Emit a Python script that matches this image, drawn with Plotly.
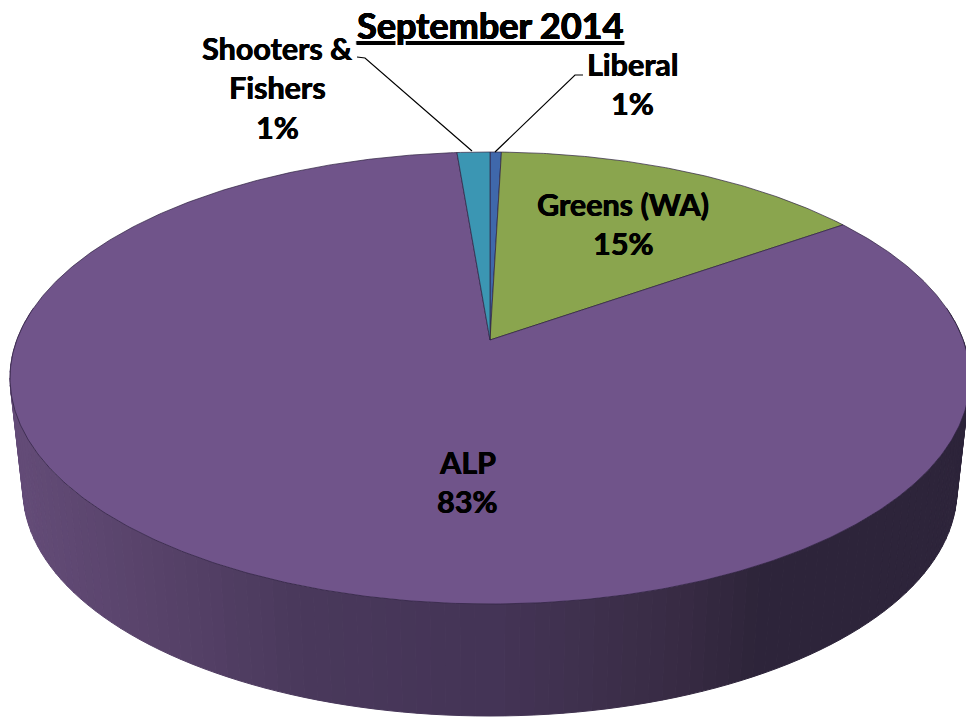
import numpy as np
import plotly.graph_objects as go

# ---- data (clockwise from 12 o'clock)
parties = ["Liberal", "Greens (WA)", "ALP", "Shooters & Fishers"]
shares = [0.45, 14.8, 83.45, 1.3]
colors = ["#3F68AB", "#8AA54E", "#70548A", "#3B96B3"]
title_text = "September 2014"
label_lines = [["Liberal", "1%"], ["Greens (WA)", "15%"], ["ALP", "83%"], ["Shooters &", "Fishers", "1%"]]
label_x = [632, 623, 467, 277]
label_y = [63.5, 203.5, 461.5, 47.5]
LINE_STEP = 39.5
leader_x = [[583, 575, 495], [357, 365, 472]]
leader_y = [[75, 75, 152], [57, 58, 151]]

# wall shading: colour against screen x
wall_x = [10, 150, 300, 500, 600, 680, 760, 966]
wall_r = [100, 88, 74, 68, 62, 56, 46, 45]
wall_g = [76, 67, 57, 52, 48, 43, 37, 36]
wall_b = [120, 106, 92, 86, 76, 68, 58, 58]

# ---- projection of the tilted disc onto the page
CX, CY, RX, RY = 490.0, 378.0, 480.0, 226.0
APEX_Y = 340.0
BX, BY, BRX, BRY = 490.0, 490.0, 467.0, 226.0
D = CY - APEX_Y
K = D / RY
A = RX * np.sqrt(1 - K**2)


def disc(fraction):
    t = 2 * np.pi * np.asarray(fraction, float)
    u, v = np.sin(t), np.cos(t)
    w = 1 + K * v
    return CX + A * u / w, CY - (RY * v + D) / w


fig = go.Figure()

# side wall, as narrow shaded strips
theta = np.linspace(np.pi * 0.40, np.pi * 1.60, 121)
for a, b in zip(theta[:-1], theta[1:]):
    ang = np.array([a, b])
    xt, yt = CX + RX * np.sin(ang), CY - RY * np.cos(ang)
    xb, yb = BX + BRX * np.sin(ang), BY - BRY * np.cos(ang)
    xm = xt.mean()
    col = "rgb(%d,%d,%d)" % (np.interp(xm, wall_x, wall_r), np.interp(xm, wall_x, wall_g), np.interp(xm, wall_x, wall_b))
    fig.add_trace(go.Scatter(
        x=[xt[0], xt[1], xb[1], xb[0], xt[0]], y=[yt[0], yt[1], yb[1], yb[0], yt[0]],
        mode="lines", fill="toself", fillcolor=col, line=dict(color=col, width=1),
        hoverinfo="skip", showlegend=False))

# top face, one wedge per party, sized from its share
total = sum(shares)
start = 0.0
for name, val, col in zip(parties, shares, colors):
    end = start + val / total
    f = np.linspace(start, end, max(3, int(val * 8)))
    ex, ey = disc(f)
    fig.add_trace(go.Scatter(
        x=np.r_[CX, ex, CX], y=np.r_[APEX_Y, ey, APEX_Y],
        mode="lines", fill="toself", fillcolor=col, name=name,
        line=dict(color="#2E2140", width=0.7), hoverinfo="name", showlegend=False))
    start = end

# leader lines
for lx, ly in zip(leader_x, leader_y):
    fig.add_trace(go.Scatter(x=lx, y=ly, mode="lines", line=dict(color="black", width=1.2),
                             hoverinfo="skip", showlegend=False))

FONT = "Lato, Carlito, sans-serif"
HEAVY = "0.5px 0 0 black, -0.3px 0 0 black"
annotations = [dict(x=490, y=25, text="<b>%s</b>" % title_text, showarrow=False,
                    font=dict(family=FONT, size=36, color="black", lineposition="under", shadow=HEAVY),
                    xanchor="center", yanchor="middle")]
for lines, x0, y0 in zip(label_lines, label_x, label_y):
    for i, line in enumerate(lines):
        annotations.append(dict(x=x0, y=y0 + i * LINE_STEP, text="<b>%s</b>" % line, showarrow=False,
                                font=dict(family=FONT, size=30.5, color="black", shadow=HEAVY),
                                xanchor="center", yanchor="middle"))

fig.update_layout(
    width=966, height=718, autosize=False,
    margin=dict(l=0, r=0, t=0, b=0),
    paper_bgcolor="white", plot_bgcolor="white",
    xaxis=dict(range=[0, 966], visible=False, fixedrange=True),
    yaxis=dict(range=[718, 0], visible=False, fixedrange=True),
    annotations=annotations,
)
fig.write_html("out.html", config={"displayModeBar": False},
               post_script="document.body.style.margin='0';document.body.style.overflow='hidden';")
